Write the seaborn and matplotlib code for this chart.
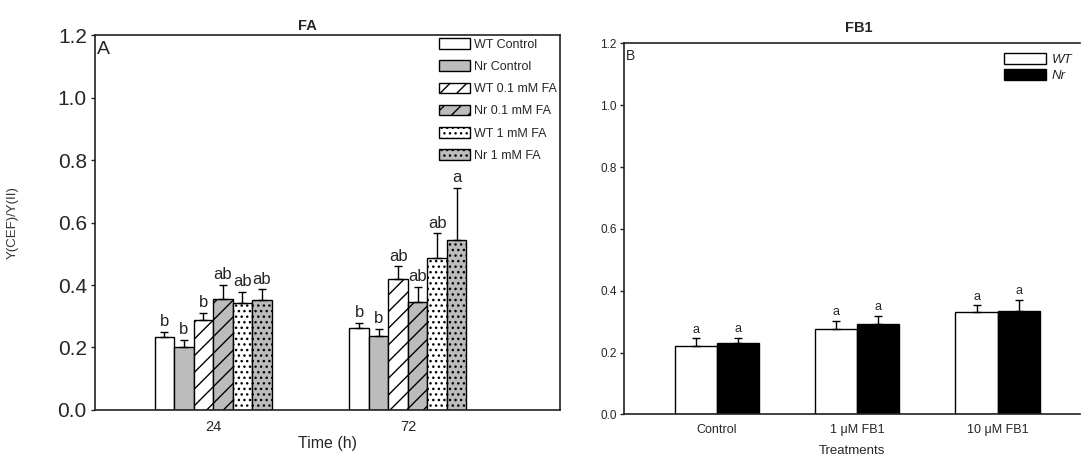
import matplotlib

matplotlib.use("Agg")

import matplotlib.pyplot as plt
import numpy as np
import pandas as pd
import seaborn as sns

# Panel A: FA treatment over time
times = ["24", "72"]
fa_groups = ["WT Control", "Nr Control", "WT 0.1 mM FA", "Nr 0.1 mM FA", "WT 1 mM FA", "Nr 1 mM FA"]
fa_24 = [0.233, 0.203, 0.288, 0.355, 0.343, 0.351]
fa_72 = [0.261, 0.237, 0.419, 0.346, 0.485, 0.545]
fa_err_24 = [0.017, 0.022, 0.023, 0.045, 0.035, 0.035]
fa_err_72 = [0.017, 0.023, 0.041, 0.049, 0.080, 0.166]
fa_letters_24 = ["b", "b", "b", "ab", "ab", "ab"]
fa_letters_72 = ["b", "b", "ab", "ab", "ab", "a"]

# Panel B: FB1 treatments
treatments = ["Control", "1 \u03bcM FB1", "10 \u03bcM FB1"]
genotypes = ["WT", "Nr"]
fb_wt = [0.221, 0.278, 0.330]
fb_nr = [0.230, 0.294, 0.334]
fb_err_wt = [0.025, 0.025, 0.023]
fb_err_nr = [0.017, 0.024, 0.036]
fb_letters_wt = ["a", "a", "a"]
fb_letters_nr = ["a", "a", "a"]

sns.set_theme(style="white")
plt.rcParams["font.family"] = ["Liberation Sans", "DejaVu Sans"]

GRAY = "#bcbcbc"
fa_colors = ["white", GRAY, "white", GRAY, "white", GRAY]
fa_hatches = [None, None, "//", "//", "...", "..."]


def add_errors(ax, values, errors, letters, fontsize):
    # one-sided (upper) error bars, letters above the caps
    for bars, vals, errs, labs in zip(ax.containers, values, errors, letters):
        xs = [p.get_x() + p.get_width() / 2 for p in bars.patches]
        ax.errorbar(xs, vals, yerr=[np.zeros(len(errs)), errs], fmt="none",
                    ecolor="black", elinewidth=1, capsize=3, capthick=1)
        for x, v, e, lab in zip(xs, vals, errs, labs):
            ax.annotate(lab, (x, v + e), xytext=(0, 2), textcoords="offset points",
                        ha="center", va="bottom", fontsize=fontsize)


fig = plt.figure(figsize=(10.81, 4.57), dpi=100)
ax1 = fig.add_axes([0.088, 0.103, 0.430, 0.820])
ax2 = fig.add_axes([0.577, 0.093, 0.422, 0.812])

# --- Panel A ---
df_a = pd.DataFrame({
    "time": np.repeat(times, len(fa_groups)),
    "group": fa_groups * len(times),
    "value": fa_24 + fa_72,
})
sns.barplot(data=df_a, x="time", y="value", hue="group", hue_order=fa_groups,
            palette=fa_colors, width=0.6, errorbar=None, edgecolor="black",
            linewidth=1, saturation=1, ax=ax1, legend=False)
for bars, hatch in zip(ax1.containers, fa_hatches):
    for p in bars.patches:
        p.set_hatch(hatch)
fa_vals = [[a, b] for a, b in zip(fa_24, fa_72)]
fa_errs = [[a, b] for a, b in zip(fa_err_24, fa_err_72)]
fa_labs = [[a, b] for a, b in zip(fa_letters_24, fa_letters_72)]
add_errors(ax1, fa_vals, fa_errs, fa_labs, 12)

ax1.set_ylim(0, 1.2)
ax1.set_xlim(-0.605, 1.78)
ax1.set_yticks(np.arange(0, 1.21, 0.2))
ax1.set_yticklabels([f"{t:.1f}" for t in np.arange(0, 1.21, 0.2)], fontsize=15)
ax1.tick_params(axis="y", left=True, length=3, width=1, pad=3)
ax1.tick_params(axis="x", bottom=False, labelsize=10.5, pad=1)
ax1.set_xlabel("Time (h)", fontsize=11.5, labelpad=2)
ax1.set_ylabel("Y(CEF)/Y(II)", fontsize=9.5, color="#333333", labelpad=28)
ax1.set_title("FA", fontsize=10.5, fontweight="bold", x=0.456, pad=4)
ax1.text(0.005, 0.985, "A", transform=ax1.transAxes, fontsize=14, va="top", ha="left")
for s in ax1.spines.values():
    s.set_color("#222222")
    s.set_linewidth(1.2)
ax1.legend(ax1.containers, fa_groups, loc="upper right", bbox_to_anchor=(1.01, 1.012),
           frameon=False, fontsize=9, handlelength=2.5, handleheight=0.9,
           labelspacing=0.78, handletextpad=0.35, borderaxespad=0.2)

# --- Panel B ---
df_b = pd.DataFrame({
    "treatment": treatments * len(genotypes),
    "genotype": np.repeat(genotypes, len(treatments)),
    "value": fb_wt + fb_nr,
})
sns.barplot(data=df_b, x="treatment", y="value", hue="genotype", hue_order=genotypes,
            order=treatments, palette=["white", "black"], width=0.6, errorbar=None,
            edgecolor="black", linewidth=1, saturation=1, ax=ax2, legend=False)
add_errors(ax2, [fb_wt, fb_nr], [fb_err_wt, fb_err_nr], [fb_letters_wt, fb_letters_nr], 9)

ax2.set_ylim(0, 1.2)
ax2.set_xlim(-0.665, 2.587)
ax2.set_yticks(np.arange(0, 1.21, 0.2))
ax2.set_yticklabels([f"{t:.1f}" for t in np.arange(0, 1.21, 0.2)], fontsize=8.5)
ax2.tick_params(axis="y", left=True, length=3, width=1, pad=2)
ax2.tick_params(axis="x", bottom=False, labelsize=9, pad=1)
ax2.set_xlabel("Treatments", fontsize=9.5, labelpad=6)
ax2.set_ylabel("")
ax2.set_title("FB1", fontsize=10.5, fontweight="bold", x=0.515, pad=8)
ax2.text(0.004, 0.985, "B", transform=ax2.transAxes, fontsize=10, va="top", ha="left")
ax2.spines["right"].set_visible(False)
for s in ax2.spines.values():
    s.set_color("#222222")
    s.set_linewidth(1.2)
leg = ax2.legend(ax2.containers, genotypes, loc="upper right", bbox_to_anchor=(1.0, 0.995),
                 frameon=False, fontsize=9.5, handlelength=3.2, handleheight=0.9,
                 labelspacing=0.2, handletextpad=0.4, borderaxespad=0.2)
for t in leg.get_texts():
    t.set_fontstyle("italic")

fig.savefig("out.png", dpi=100, facecolor="white")
